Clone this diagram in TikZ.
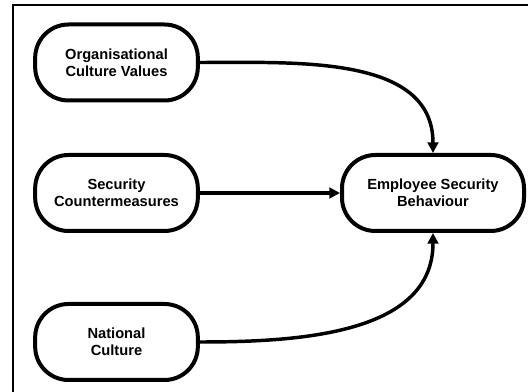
\documentclass[tikz,border=0pt]{standalone}
\usepackage{fontspec}
\setmainfont{Liberation Sans}
\usetikzlibrary{arrows.meta}

\tikzset{
  factor/.style={draw, line width=3pt, rounded corners=25pt, align=center,
    minimum width=122pt, minimum height=57pt, inner sep=2pt,
    font=\fontsize{11}{12.8}\selectfont\bfseries},
  link/.style={line width=2.6pt, -{Triangle[length=8pt,width=8pt]}}
}

\begin{document}
\begin{tikzpicture}[x=0.75pt, y=0.75pt]
      \useasboundingbox (0,0) rectangle (528,392);
      \clip (0,0) rectangle (528,392);

      % frame
      \draw[line width=1.6pt] (13,-10) -- (13,387) -- (540,387);

      % influencing factors
      \node[factor] (org) at (116.5,329.5) {Organisational\\Culture Values};  % top box
      \node[factor] (sec) at (116.5,199) {Security\\Countermeasures};  % middle box
      \node[factor] (nat) at (116.5,50) {National\\Culture};  % bottom box

      % outcome
      \node[factor, minimum width=136.5pt] (esb) at (433,199) {Employee Security\\Behaviour};

      % links
      \draw[link] (org.east) to[out=0, in=90] (esb.north);  % curved from top
      \draw[link] (sec.east) -- (esb.west);  % straight
      \draw[link] (nat.east) to[out=0, in=-90] (esb.south);  % curved from bottom
\end{tikzpicture}
\end{document}
